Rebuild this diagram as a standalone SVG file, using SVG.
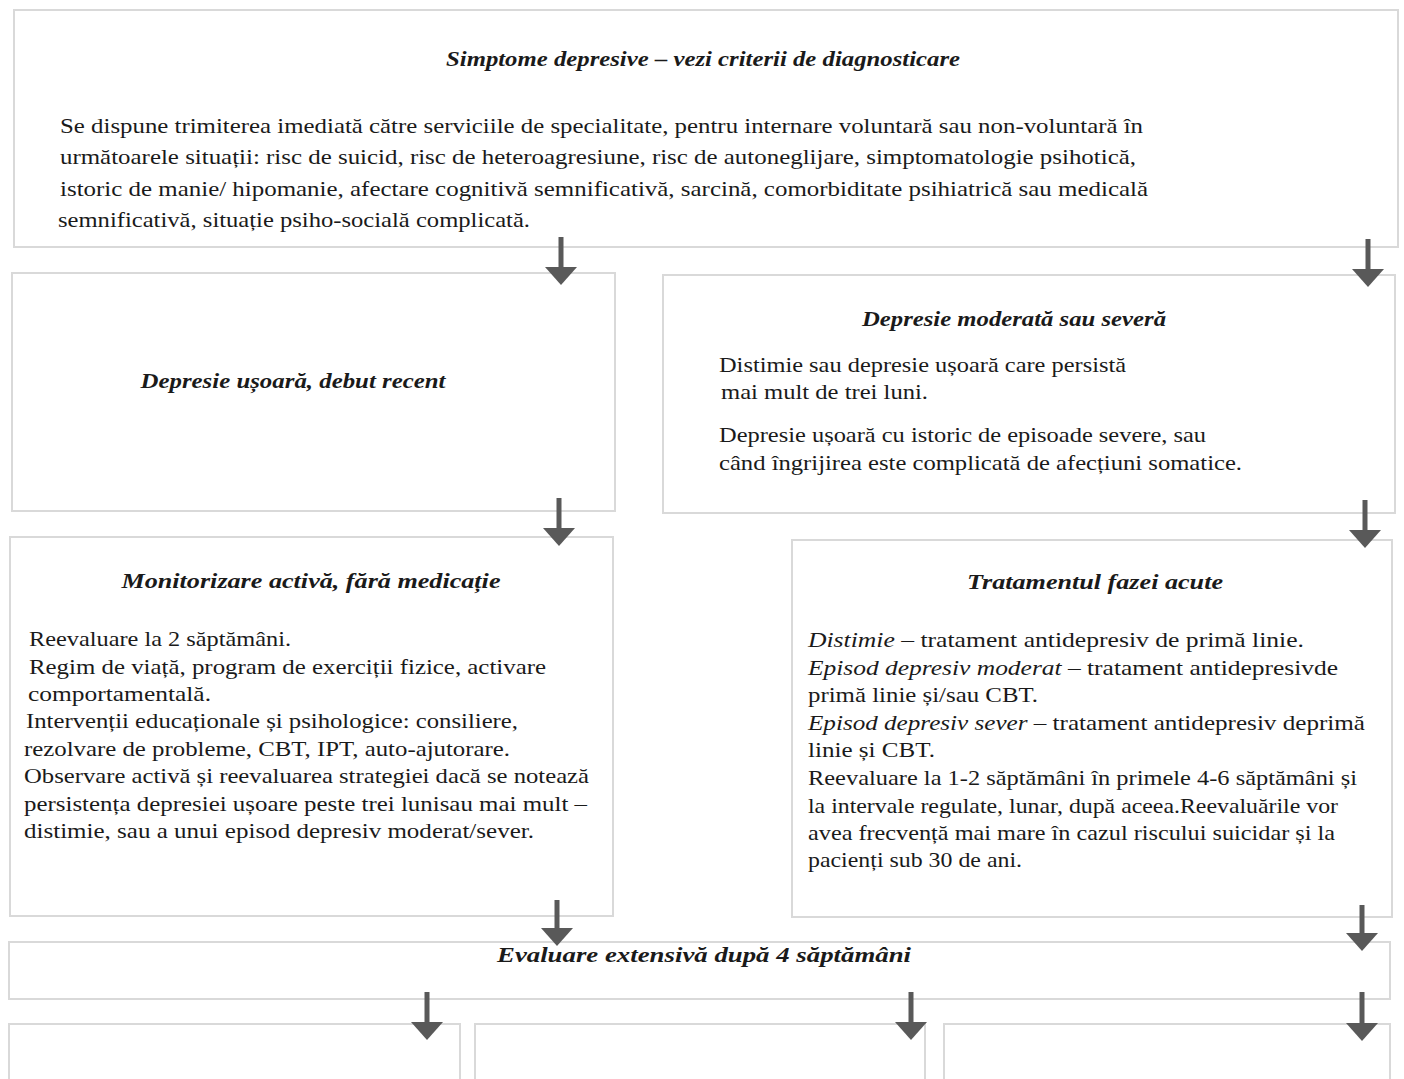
<svg xmlns="http://www.w3.org/2000/svg" width="1404" height="1079" viewBox="0 0 1404 1079">
<defs>
<marker id="ah" viewBox="0 0 18 32" refX="0" refY="16" markerWidth="18" markerHeight="32" markerUnits="userSpaceOnUse" orient="auto">
<path d="M0,0 L18,16 L0,32 z" fill="#595959"/>
</marker>
<style>
.box{fill:#fff;stroke:#d9d9d9;stroke-width:2}
.t{font-family:"Liberation Serif","Times New Roman",serif;fill:#1a1a1a}
.title{font-size:21px;font-style:italic;font-weight:bold}
.body{font-size:22px}
.it{font-style:italic}
.conn line{stroke:#595959;stroke-width:5;marker-end:url(#ah)}
</style>
</defs>
<rect width="1404" height="1079" fill="#fff"/>

<g id="n1">
<rect class="box" x="14" y="10" width="1384" height="237"/>
<text class="t title" x="703" y="66" text-anchor="middle" textLength="514" lengthAdjust="spacingAndGlyphs">Simptome depresive – vezi criterii de diagnosticare</text>
<text class="t body" x="60" y="133" textLength="1083" lengthAdjust="spacingAndGlyphs">Se dispune trimiterea imediată către serviciile de specialitate, pentru internare voluntară sau non-voluntară în</text>
<text class="t body" x="60" y="164" textLength="1076" lengthAdjust="spacingAndGlyphs">următoarele situații: risc de suicid, risc de heteroagresiune, risc de autoneglijare, simptomatologie psihotică,</text>
<text class="t body" x="60" y="196" textLength="1088" lengthAdjust="spacingAndGlyphs">istoric de manie/ hipomanie, afectare cognitivă semnificativă, sarcină, comorbiditate psihiatrică sau medicală</text>
<text class="t body" x="58" y="227" textLength="472" lengthAdjust="spacingAndGlyphs">semnificativă, situație psiho-socială complicată.</text>
</g>

<g id="n2">
<rect class="box" x="12" y="273" width="603" height="238"/>
<text class="t title" x="293" y="388" text-anchor="middle" textLength="305" lengthAdjust="spacingAndGlyphs">Depresie ușoară, debut recent</text>
</g>

<g id="n3">
<rect class="box" x="663" y="275" width="732" height="238"/>
<text class="t title" x="1014" y="326" text-anchor="middle" textLength="304" lengthAdjust="spacingAndGlyphs">Depresie moderată sau severă</text>
<text class="t body" x="719" y="372" textLength="407" lengthAdjust="spacingAndGlyphs">Distimie sau depresie ușoară care persistă</text>
<text class="t body" x="721" y="399" textLength="207" lengthAdjust="spacingAndGlyphs">mai mult de trei luni.</text>
<text class="t body" x="719" y="442" textLength="487" lengthAdjust="spacingAndGlyphs">Depresie ușoară cu istoric de episoade severe, sau</text>
<text class="t body" x="719" y="470" textLength="523" lengthAdjust="spacingAndGlyphs">când îngrijirea este complicată de afecțiuni somatice.</text>
</g>

<g id="n4">
<rect class="box" x="10" y="537" width="603" height="379"/>
<text class="t title" x="311" y="588" text-anchor="middle" textLength="379" lengthAdjust="spacingAndGlyphs">Monitorizare activă, fără medicație</text>
<text class="t body" x="29" y="646" textLength="262" lengthAdjust="spacingAndGlyphs">Reevaluare la 2 săptămâni.</text>
<text class="t body" x="29" y="674" textLength="517" lengthAdjust="spacingAndGlyphs">Regim de viață, program de exerciții fizice, activare</text>
<text class="t body" x="28" y="701" textLength="183" lengthAdjust="spacingAndGlyphs">comportamentală.</text>
<text class="t body" x="26" y="728" textLength="492" lengthAdjust="spacingAndGlyphs">Intervenții educaționale și psihologice: consiliere,</text>
<text class="t body" x="24" y="756" textLength="486" lengthAdjust="spacingAndGlyphs">rezolvare de probleme, CBT, IPT, auto-ajutorare.</text>
<text class="t body" x="24" y="783" textLength="565" lengthAdjust="spacingAndGlyphs">Observare activă și reevaluarea strategiei dacă se notează</text>
<text class="t body" x="24" y="811" textLength="563" lengthAdjust="spacingAndGlyphs">persistența depresiei ușoare peste trei lunisau mai mult –</text>
<text class="t body" x="24" y="838" textLength="510" lengthAdjust="spacingAndGlyphs">distimie, sau a unui episod depresiv moderat/sever.</text>
</g>

<g id="n5">
<rect class="box" x="792" y="540" width="600" height="377"/>
<text class="t title" x="1095" y="589" text-anchor="middle" textLength="256" lengthAdjust="spacingAndGlyphs">Tratamentul fazei acute</text>
<text class="t body" x="808" y="647" textLength="496" lengthAdjust="spacingAndGlyphs"><tspan class="it">Distimie</tspan> – tratament antidepresiv de primă linie.</text>
<text class="t body" x="808" y="675" textLength="530" lengthAdjust="spacingAndGlyphs"><tspan class="it">Episod depresiv moderat</tspan> – tratament antidepresivde</text>
<text class="t body" x="808" y="702" textLength="230" lengthAdjust="spacingAndGlyphs">primă linie și/sau CBT.</text>
<text class="t body" x="808" y="730" textLength="557" lengthAdjust="spacingAndGlyphs"><tspan class="it">Episod depresiv sever</tspan> – tratament antidepresiv deprimă</text>
<text class="t body" x="808" y="757" textLength="127" lengthAdjust="spacingAndGlyphs">linie și CBT.</text>
<text class="t body" x="808" y="785" textLength="549" lengthAdjust="spacingAndGlyphs">Reevaluare la 1-2 săptămâni în primele 4-6 săptămâni și</text>
<text class="t body" x="808" y="813" textLength="530" lengthAdjust="spacingAndGlyphs">la intervale regulate, lunar, după aceea.Reevaluările vor</text>
<text class="t body" x="808" y="840" textLength="527" lengthAdjust="spacingAndGlyphs">avea frecvență mai mare în cazul riscului suicidar și la</text>
<text class="t body" x="808" y="867" textLength="214" lengthAdjust="spacingAndGlyphs">pacienți sub 30 de ani.</text>
</g>

<g id="n6">
<rect class="box" x="9" y="942" width="1381" height="57"/>
<text class="t title" x="704" y="962" text-anchor="middle" textLength="414" lengthAdjust="spacingAndGlyphs">Evaluare extensivă după 4 săptămâni</text>
</g>

<g id="n7"><rect class="box" x="9" y="1024" width="451" height="70"/></g>
<g id="n8"><rect class="box" x="475" y="1024" width="450" height="70"/></g>
<g id="n9"><rect class="box" x="944" y="1024" width="446" height="70"/></g>

<g id="connectors" class="conn">
<line x1="561" y1="237" x2="561" y2="267"/>
<line x1="1368" y1="239" x2="1368" y2="269"/>
<line x1="559" y1="498" x2="559" y2="528"/>
<line x1="1365" y1="500" x2="1365" y2="530"/>
<line x1="557" y1="900" x2="557" y2="928"/>
<line x1="1362" y1="905" x2="1362" y2="933"/>
<line x1="427" y1="992" x2="427" y2="1022"/>
<line x1="911" y1="992" x2="911" y2="1022"/>
<line x1="1362" y1="992" x2="1362" y2="1023"/>
</g>
</svg>
